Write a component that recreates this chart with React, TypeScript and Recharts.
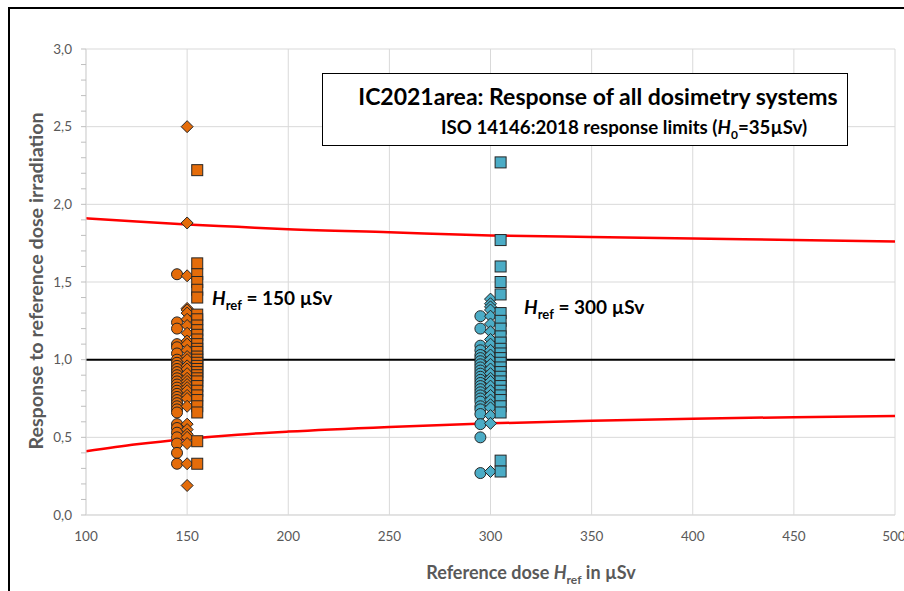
import React from "react";
import { ComposedChart, Scatter, Line, XAxis, YAxis, CartesianGrid } from "recharts";

// x positions of the marker columns (dose categories, slightly offset per marker type)
const ORANGE_X = { circle: 145, diamond: 150, square: 155 };
const BLUE_X = { circle: 295, diamond: 300, square: 305 };

const xTicks = [100, 150, 200, 250, 300, 350, 400, 450, 500];
const yMajorTicks = [0, 0.5, 1, 1.5, 2, 2.5, 3];
const yMinorTicks = [0, 0.1, 0.2, 0.3, 0.4, 0.5, 0.6, 0.7, 0.8, 0.9, 1, 1.1, 1.2, 1.3, 1.4, 1.5, 1.6, 1.7, 1.8, 1.9, 2, 2.1, 2.2, 2.3, 2.4, 2.5, 2.6, 2.7, 2.8, 2.9, 3];

// ISO 14146 response limits
const limitX = [100, 125, 150, 175, 200, 250, 300, 350, 400, 450, 500];
const upperLimit = [1.91, 1.89, 1.87, 1.855, 1.84, 1.82, 1.80, 1.79, 1.78, 1.77, 1.76];
const lowerLimit = [0.41, 0.455, 0.49, 0.517, 0.537, 0.567, 0.59, 0.607, 0.62, 0.63, 0.638];
const unityX = [100, 500];
const unityY = [1, 1];

// Href = 150 µSv
const orangeCircles = [1.55, 1.24, 1.20, 1.10, 1.08, 1.04, 1.00, 0.98, 0.96, 0.94, 0.92, 0.90, 0.88, 0.86, 0.84, 0.82, 0.80, 0.78, 0.76, 0.74, 0.72, 0.70, 0.68, 0.66, 0.585, 0.56, 0.53, 0.50, 0.46, 0.40, 0.33];
const orangeDiamonds = [2.50, 1.88, 1.54, 1.33, 1.32, 1.30, 1.26, 1.22, 1.17, 1.12, 1.10, 1.06, 1.02, 1.00, 0.96, 0.94, 0.91, 0.88, 0.86, 0.84, 0.82, 0.80, 0.77, 0.75, 0.70, 0.585, 0.55, 0.52, 0.50, 0.46, 0.33, 0.19];
const orangeSquares = [2.22, 1.62, 1.55, 1.50, 1.45, 1.40, 1.29, 1.26, 1.22, 1.19, 1.16, 1.13, 1.10, 1.07, 1.05, 1.02, 1.00, 0.98, 0.96, 0.94, 0.92, 0.90, 0.88, 0.86, 0.83, 0.80, 0.77, 0.74, 0.70, 0.66, 0.475, 0.33];

// Href = 300 µSv
const blueCircles = [1.28, 1.20, 1.09, 1.06, 1.03, 1.01, 0.99, 0.97, 0.95, 0.93, 0.91, 0.89, 0.87, 0.85, 0.83, 0.81, 0.79, 0.77, 0.75, 0.73, 0.70, 0.68, 0.65, 0.585, 0.50, 0.27];
const blueDiamonds = [1.39, 1.36, 1.34, 1.32, 1.28, 1.23, 1.18, 1.13, 1.10, 1.06, 1.03, 1.00, 0.97, 0.94, 0.91, 0.88, 0.86, 0.83, 0.80, 0.77, 0.74, 0.71, 0.69, 0.64, 0.59, 0.28];
const blueSquares = [2.27, 1.77, 1.60, 1.50, 1.42, 1.30, 1.25, 1.20, 1.15, 1.11, 1.07, 1.04, 1.01, 0.98, 0.95, 0.92, 0.89, 0.86, 0.83, 0.80, 0.77, 0.74, 0.70, 0.66, 0.35, 0.28];

const ORANGE = "#E46C0A";
const BLUE = "#4BACC6";
const OUTLINE = "#262626";
const GRID = "#d9d9d9";
const TEXT = "#595959";
const FONT = "Lato, 'Open Sans', sans-serif";

const pts = (x: number, ys: number[]) => ys.map((y) => ({ x, y }));
const linePts = (xs: number[], ys: number[]) => xs.map((x, i) => ({ x, y: ys[i] }));

const circleShape = (fill: string) => (p: any) => (
  <circle cx={p.cx} cy={p.cy} r={5.5} fill={fill} stroke={OUTLINE} strokeWidth={1} />
);
const diamondShape = (fill: string) => (p: any) => (
  <path
    d={`M${p.cx},${p.cy - 6} L${p.cx + 6},${p.cy} L${p.cx},${p.cy + 6} L${p.cx - 6},${p.cy} Z`}
    fill={fill}
    stroke={OUTLINE}
    strokeWidth={1}
  />
);
const squareShape = (fill: string) => (p: any) => (
  <rect x={p.cx - 5.5} y={p.cy - 5.5} width={11} height={11} fill={fill} stroke={OUTLINE} strokeWidth={1} />
);

const fmtY = (v: number) => {
  const r = Math.round(v * 10) / 10;
  return Math.abs(r * 2 - Math.round(r * 2)) < 1e-6 ? r.toFixed(1).replace(".", ",") : "";
};

export default function App() {
  return (
    <div style={{ position: "relative", width: 904, height: 591, overflow: "hidden", background: "#fff", fontFamily: FONT }}>
      <style>{`html,body{margin:0;padding:0;overflow:hidden;}`}</style>
      <div
        style={{
          position: "absolute",
          left: 8,
          top: 7,
          width: 1000,
          height: 1000,
          borderLeft: "2px solid #000",
          borderTop: "2px solid #000",
        }}
      />
      <div style={{ position: "absolute", left: 0, top: 0 }}>
        <ComposedChart width={904} height={591} margin={{ top: 49, right: 9, left: 0, bottom: 46 }}>
          <CartesianGrid stroke={GRID} strokeWidth={1} horizontalValues={yMajorTicks} verticalValues={xTicks} />
          <XAxis
            type="number"
            dataKey="x"
            domain={[100, 500]}
            ticks={xTicks}
            allowDataOverflow
            height={30}
            axisLine={{ stroke: GRID }}
            tickLine={false}
            tickSize={6}
            tickMargin={10}
            tick={{ fill: TEXT, fontSize: 13.5, fontFamily: FONT }}
          />
          <YAxis
            type="number"
            dataKey="y"
            domain={[0, 3]}
            ticks={yMinorTicks}
            interval={0}
            allowDataOverflow
            width={86}
            axisLine={{ stroke: GRID }}
            tickLine={{ stroke: "#bfbfbf" }}
            tickSize={5}
            tickMargin={9}
            tickFormatter={fmtY}
            tick={{ fill: TEXT, fontSize: 13.5, fontFamily: FONT }}
          />
          <Line data={linePts(limitX, upperLimit)} dataKey="y" type="monotone" dot={false} stroke="#FF0000" strokeWidth={2.5} isAnimationActive={false} />
          <Line data={linePts(limitX, lowerLimit)} dataKey="y" type="monotone" dot={false} stroke="#FF0000" strokeWidth={2.5} isAnimationActive={false} />
          <Line data={linePts(unityX, unityY)} dataKey="y" type="linear" dot={false} stroke="#000000" strokeWidth={2} isAnimationActive={false} />
          <Scatter data={pts(ORANGE_X.circle, orangeCircles)} dataKey="y" shape={circleShape(ORANGE)} isAnimationActive={false} />
          <Scatter data={pts(ORANGE_X.diamond, orangeDiamonds)} dataKey="y" shape={diamondShape(ORANGE)} isAnimationActive={false} />
          <Scatter data={pts(ORANGE_X.square, orangeSquares)} dataKey="y" shape={squareShape(ORANGE)} isAnimationActive={false} />
          <Scatter data={pts(BLUE_X.circle, blueCircles)} dataKey="y" shape={circleShape(BLUE)} isAnimationActive={false} />
          <Scatter data={pts(BLUE_X.diamond, blueDiamonds)} dataKey="y" shape={diamondShape(BLUE)} isAnimationActive={false} />
          <Scatter data={pts(BLUE_X.square, blueSquares)} dataKey="y" shape={squareShape(BLUE)} isAnimationActive={false} />
        </ComposedChart>
      </div>

      {/* Title box */}
      <div
        style={{
          position: "absolute",
          left: 322,
          top: 73,
          width: 524,
          height: 71,
          border: "1px solid #000",
          background: "#fff",
          color: "#000",
          fontWeight: 700,
        }}
      >
        <div style={{ position: "absolute", left: 0, width: 550, top: 7, textAlign: "center", fontSize: 23, lineHeight: "30px", whiteSpace: "nowrap" }}>
          IC2021area: Response of all dosimetry systems
        </div>
        <div style={{ position: "absolute", left: 118, top: 42, fontSize: 18.7, lineHeight: "22px", whiteSpace: "nowrap" }}>
          ISO 14146:2018 response limits (<i>H</i>
          <sub style={{ fontSize: 12 }}>0</sub>=35µSv)
        </div>
      </div>

      {/* annotations */}
      <div style={{ position: "absolute", left: 212, top: 286, fontSize: 19, fontWeight: 700, color: "#000", whiteSpace: "nowrap", lineHeight: "24px" }}>
        <i>H</i>
        <sub style={{ fontSize: 13 }}>ref</sub> = 150 µSv
      </div>
      <div style={{ position: "absolute", left: 524, top: 295, fontSize: 19, fontWeight: 700, color: "#000", whiteSpace: "nowrap", lineHeight: "24px" }}>
        <i>H</i>
        <sub style={{ fontSize: 13 }}>ref</sub> = 300 µSv
      </div>

      {/* axis titles */}
      <div
        style={{
          position: "absolute",
          left: 35,
          top: 281,
          transform: "translate(-50%, -50%) rotate(-90deg)",
          fontSize: 19.7,
          fontWeight: 700,
          color: TEXT,
          whiteSpace: "nowrap",
        }}
      >
        Response to reference dose irradiation
      </div>
      <div
        style={{
          position: "absolute",
          left: 531,
          top: 574,
          transform: "translate(-50%, -50%)",
          fontSize: 18,
          fontWeight: 700,
          color: TEXT,
          whiteSpace: "nowrap",
        }}
      >
        Reference dose <i>H</i>
        <sub style={{ fontSize: 12 }}>ref</sub> in µSv
      </div>
    </div>
  );
}
